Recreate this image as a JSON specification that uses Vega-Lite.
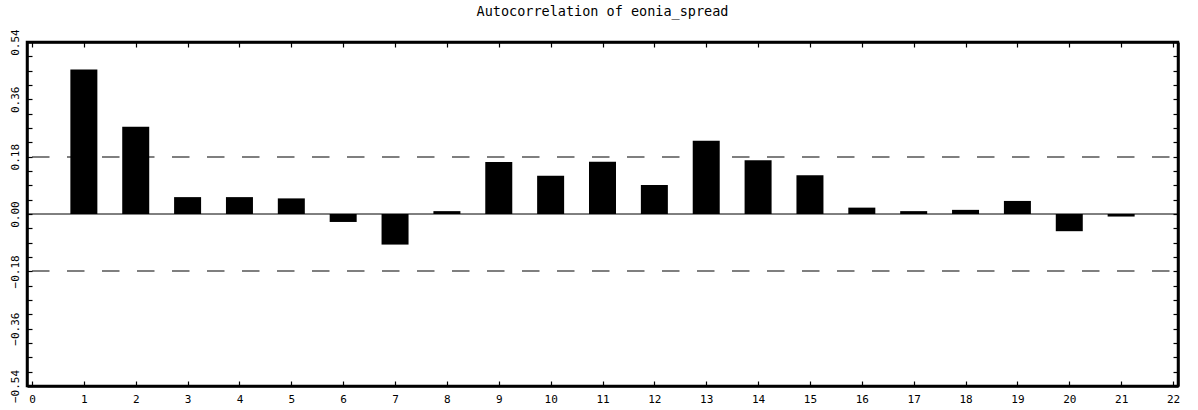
{
  "$schema": "https://vega.github.io/schema/vega-lite/v6.json",
  "autosize": {"type": "none"},
  "width": 1151,
  "height": 344,
  "padding": {"left": 27, "top": 42, "right": 20, "bottom": 24},
  "background": "white",
  "config": {
    "view": {"stroke": "black", "strokeWidth": 2.5},
    "font": "DejaVu Sans Mono",
    "axis": {
      "domainColor": "black",
      "domainWidth": 2.5,
      "tickColor": "black",
      "tickWidth": 1.2,
      "tickSize": -5,
      "grid": false,
      "title": null,
      "labelColor": "black",
      "labelFont": "DejaVu Sans Mono",
      "labelFlush": false,
      "labelOverlap": false
    }
  },
  "title": {
    "text": "Autocorrelation of eonia_spread",
    "font": "DejaVu Sans Mono",
    "fontSize": 13.5,
    "fontWeight": "normal",
    "color": "black",
    "anchor": "middle",
    "baseline": "alphabetic",
    "offset": -1
  },
  "layer": [
    {
      "data": {
        "values": [
          {"lag": 1, "acf": 0.454},
          {"lag": 2, "acf": 0.274},
          {"lag": 3, "acf": 0.053},
          {"lag": 4, "acf": 0.053},
          {"lag": 5, "acf": 0.049},
          {"lag": 6, "acf": -0.025},
          {"lag": 7, "acf": -0.096},
          {"lag": 8, "acf": 0.009},
          {"lag": 9, "acf": 0.163},
          {"lag": 10, "acf": 0.12},
          {"lag": 11, "acf": 0.164},
          {"lag": 12, "acf": 0.091},
          {"lag": 13, "acf": 0.23},
          {"lag": 14, "acf": 0.169},
          {"lag": 15, "acf": 0.122},
          {"lag": 16, "acf": 0.02},
          {"lag": 17, "acf": 0.009},
          {"lag": 18, "acf": 0.013},
          {"lag": 19, "acf": 0.041},
          {"lag": 20, "acf": -0.054},
          {"lag": 21, "acf": -0.008}
        ]
      },
      "mark": {"type": "bar", "color": "black", "size": 27},
      "encoding": {
        "x": {
          "field": "lag",
          "type": "quantitative",
          "scale": {"domain": [0, 22], "nice": false, "zero": false},
          "axis": {
            "orient": "bottom",
            "values": [0,1,2,3,4,5,6,7,8,9,10,11,12,13,14,15,16,17,18,19,20,21,22],
            "format": "d",
            "labelFontSize": 11,
            "labelPadding": 12,
            "labelAngle": 0
          }
        },
        "y": {
          "field": "acf",
          "type": "quantitative",
          "scale": {"domain": [-0.54, 0.54], "nice": false, "zero": false},
          "axis": {
            "orient": "left",
            "values": [-0.54,-0.495,-0.45,-0.405,-0.36,-0.315,-0.27,-0.225,-0.18,-0.135,-0.09,-0.045,0,0.045,0.09,0.135,0.18,0.225,0.27,0.315,0.36,0.405,0.45,0.495,0.54],
            "format": ".2f",
            "labelExpr": "abs(round(datum.value*1000) % 180) == 0 ? datum.label : ''",
            "labelAngle": -90,
            "labelAlign": "center",
            "labelBaseline": "bottom",
            "labelFontSize": 11,
            "labelPadding": 12
          }
        }
      }
    },
    {
      "data": {"values": [{"bound": 0.179}, {"bound": -0.179}]},
      "mark": {"type": "rule", "color": "black", "strokeWidth": 1.2, "strokeDash": [17.5, 17.5]},
      "encoding": {
        "x": {
          "datum": 0,
          "type": "quantitative",
          "axis": {
            "orient": "top",
            "values": [0,1,2,3,4,5,6,7,8,9,10,11,12,13,14,15,16,17,18,19,20,21,22],
            "labels": false
          }
        },
        "x2": {"datum": 22},
        "y": {
          "field": "bound",
          "type": "quantitative",
          "axis": {
            "orient": "right",
            "values": [-0.54,-0.495,-0.45,-0.405,-0.36,-0.315,-0.27,-0.225,-0.18,-0.135,-0.09,-0.045,0,0.045,0.09,0.135,0.18,0.225,0.27,0.315,0.36,0.405,0.45,0.495,0.54],
            "labels": false
          }
        }
      }
    },
    {
      "data": {"values": [{"zero": 0}]},
      "mark": {"type": "rule", "color": "black", "strokeWidth": 1},
      "encoding": {
        "y": {"field": "zero", "type": "quantitative", "axis": null}
      }
    }
  ],
  "resolve": {"axis": {"x": "independent", "y": "independent"}}
}
